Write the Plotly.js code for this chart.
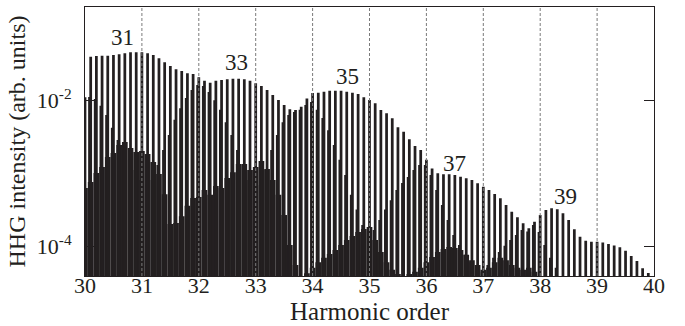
<!DOCTYPE html>
<html>
<head>
<meta charset="utf-8">
<script src="https://cdn.plot.ly/plotly-3.0.1.min.js"></script>
<style>html,body{margin:0;padding:0;background:#fff;}#chart{width:685px;height:326px;}</style>
</head>
<body>
<div id="chart"></div>
<script>
// Harmonic order of each fringe period
const orders = [30.0,30.1,30.2,30.3,30.4,30.5,30.6,30.7,30.8,30.9,
  31.0,31.1,31.2,31.3,31.4,31.5,31.6,31.7,31.8,31.9,
  32.0,32.1,32.2,32.3,32.4,32.5,32.6,32.7,32.8,32.9,
  33.0,33.1,33.2,33.3,33.4,33.5,33.6,33.7,33.8,33.9,
  34.0,34.1,34.2,34.3,34.4,34.5,34.6,34.7,34.8,34.9,
  35.0,35.1,35.2,35.3,35.4,35.5,35.6,35.7,35.8,35.9,
  36.0,36.1,36.2,36.3,36.4,36.5,36.6,36.7,36.8,36.9,
  37.0,37.1,37.2,37.3,37.4,37.5,37.6,37.7,37.8,37.9,
  38.0,38.1,38.2,38.3,38.4,38.5,38.6,38.7,38.8,38.9,
  39.0,39.1,39.2,39.3,39.4,39.5,39.6,39.7,39.8,39.9];

// Fringe maxima (tall lines)
const peakIntensity = [1.1e-2,3.94e-2,4.04e-2,4.07e-2,4.07e-2,4.17e-2,4.26e-2,4.40e-2,4.54e-2,4.54e-2,
  4.54e-2,4.40e-2,4.17e-2,3.76e-2,3.31e-2,2.94e-2,2.65e-2,2.52e-2,2.34e-2,2.29e-2,
  2.06e-2,1.85e-2,1.74e-2,1.85e-2,1.90e-2,1.94e-2,1.97e-2,1.97e-2,1.94e-2,1.85e-2,
  1.71e-2,1.57e-2,1.38e-2,1.18e-2,1.01e-2,8.63e-3,7.53e-3,7.36e-3,8.18e-3,1.06e-2,
  1.26e-2,1.27e-2,1.31e-2,1.35e-2,1.35e-2,1.35e-2,1.31e-2,1.27e-2,1.22e-2,1.10e-2,
  1.01e-2,9.1e-3,7.36e-3,6.64e-3,5.67e-3,4.27e-3,3.72e-3,2.93e-3,2.37e-3,2.09e-3,
  1.53e-3,1.17e-3,1.00e-3,9.72e-4,9.72e-4,9.51e-4,9.02e-4,8.57e-4,8.13e-4,7.32e-4,
  6.58e-4,5.93e-4,5.23e-4,4.56e-4,3.70e-4,2.99e-4,2.51e-4,2.07e-4,1.77e-4,2.18e-4,
  2.70e-4,3.16e-4,3.33e-4,3.23e-4,2.85e-4,2.31e-4,1.72e-4,1.36e-4,1.20e-4,1.16e-4,
  1.16e-4,1.13e-4,1.08e-4,1.03e-4,9.75e-5,8.77e-5,7.41e-5,6.34e-5,5.04e-5,4.34e-5];

// Shoulder level beside each maximum
const shoulderIntensity = [1.11e-2,1.11e-2,1.04e-2,8.4e-3,6.3e-3,4.2e-3,2.86e-3,2.09e-3,1.53e-3,1.11e-3,
  8.1e-4,6.9e-4,8.1e-4,1.30e-3,2.09e-3,3.35e-3,5.4e-3,7.8e-3,1.07e-2,1.38e-2,
  1.62e-2,1.57e-2,1.30e-2,1.0e-2,7.4e-3,5.0e-3,3.35e-3,2.09e-3,1.30e-3,8.1e-4,
  5.9e-4,6.9e-4,1.11e-3,2.09e-3,3.35e-3,5.0e-3,6.3e-3,6.9e-3,7.4e-3,8.6e-3,
  9.5e-3,7.4e-3,5.7e-3,3.9e-3,2.45e-3,1.53e-3,9.5e-4,5.1e-4,3.2e-4,1.97e-4,
  1.58e-4,1.68e-4,2.3e-4,3.2e-4,4.3e-4,5.9e-4,7.4e-4,8.9e-4,1.11e-3,1.30e-3,
  1.30e-3,9.5e-4,5.9e-4,3.7e-4,2.3e-4,1.44e-4,1.05e-4,7.7e-5,6.1e-5,5.1e-5,
  4.5e-5,5.6e-5,7.0e-5,8.4e-5,1.02e-4,1.23e-4,1.44e-4,1.68e-4,1.6e-4,1.97e-4,
  1.58e-4,1.05e-4,7.0e-5,5.1e-5,null,null,null,null,null,null,
  null,null,null,null,null,null,null,null,null,null];

// Fringe minima (bottom of the white gaps)
const minimumIntensity = [6.3e-4,7.6e-4,1.01e-3,1.22e-3,1.68e-3,1.90e-3,2.45e-3,2.69e-3,2.22e-3,1.96e-3,
  2.02e-3,1.84e-3,1.43e-3,9.8e-4,5.2e-4,2.03e-4,2.1e-4,2.6e-4,3.6e-4,4.6e-4,
  4.75e-4,5.9e-4,5.1e-4,6.7e-4,6.3e-4,8.65e-4,1.04e-3,1.34e-3,1.34e-3,1.11e-3,
  1.22e-3,1.48e-3,1.15e-3,8.1e-4,5.1e-4,2.7e-4,1.05e-4,5.6e-5,null,4.3e-5,
  5.1e-5,6.1e-5,7.0e-5,7.9e-5,8.95e-5,1.05e-4,1.23e-4,1.39e-4,1.58e-4,1.73e-4,
  1.85e-4,1.23e-4,8.4e-5,6.1e-5,4.8e-5,4.2e-5,null,4.2e-5,4.5e-5,5.1e-5,
  6.1e-5,7.2e-5,8.4e-5,9.2e-5,9.8e-5,9.5e-5,8.95e-5,7.7e-5,6.5e-5,5.6e-5,
  4.8e-5,5.1e-5,6.1e-5,7.0e-5,6.5e-5,5.6e-5,5.1e-5,4.8e-5,5.1e-5,4.5e-5,
  null,null,null,null,null,null,null,null,null,null,
  null,null,null,null,null,null,null,null,null,null];

const gridOrders = [31,32,33,34,35,36,37,38,39];
const xTicks = [30,31,32,33,34,35,36,37,38,39,40];
const yTickVals = [1e-4, 1e-2];
const yTickText = ['10<sup>-4</sup>', '10<sup>-2</sup>'];
const peakLabels = ['31','33','35','37','39'];
const peakLabelX = [30.66, 32.67, 34.62, 36.5, 38.44];
const peakLabelYPaper = [0.887, 0.792, 0.741, 0.419, 0.294];

const ink = '#231f20';
const serif = '"Liberation Serif", "Times New Roman", Times, serif';

const traces = [
  {type:'bar', x:orders, y:minimumIntensity, width:0.1, offset:-0.05,
   marker:{color:ink, line:{width:0}}, hoverinfo:'skip'},
  {type:'bar', x:orders, y:shoulderIntensity, width:0.045, offset:-0.045,
   marker:{color:ink, line:{width:0}}, hoverinfo:'skip'},
  {type:'bar', x:orders, y:peakIntensity, width:0.048, offset:-0.024,
   marker:{color:ink, line:{width:0}}, hoverinfo:'skip'}
];

const shapes = gridOrders.map(g => ({
  type:'line', xref:'x', yref:'paper', x0:g, x1:g, y0:0, y1:1, layer:'above',
  line:{color:'#7a7a7a', width:1, dash:'3px,2px'}
}));

const annotations = peakLabels.map((t,i) => ({
  text:t, x:peakLabelX[i], xref:'x', y:peakLabelYPaper[i], yref:'paper',
  xanchor:'center', yanchor:'middle',
  showarrow:false, font:{family:serif, size:23, color:ink}
}));

const layout = {
  width:685, height:326,
  margin:{l:85, r:31, t:7, b:50},
  paper_bgcolor:'#fff', plot_bgcolor:'#fff',
  barmode:'overlay', showlegend:false,
  font:{family:serif, color:ink},
  xaxis:{
    range:[30,40], tickmode:'array', tickvals:xTicks,
    ticks:'', ticklen:0, showgrid:false, zeroline:false,
    showline:true, mirror:true, linecolor:ink, linewidth:1,
    tickfont:{family:serif, size:22, color:ink},
    ticklabelstandoff:-10,
    title:{text:'Harmonic order', font:{family:serif, size:25, color:ink}, standoff:2}
  },
  yaxis:{
    type:'log', range:[-4.404, -0.724], tickmode:'array',
    tickvals:yTickVals, ticktext:yTickText,
    ticks:'inside', ticklen:10, tickcolor:ink, tickwidth:1,
    showgrid:false, zeroline:false,
    showline:true, mirror:'ticks', linecolor:ink, linewidth:1,
    tickfont:{family:serif, size:22, color:ink},
    ticklabelstandoff:8,
    title:{text:'HHG intensity (arb. units)', font:{family:serif, size:24, color:ink}, standoff:4}
  },
  shapes:shapes,
  annotations:annotations
};

Plotly.newPlot('chart', traces, layout, {staticPlot:true, displayModeBar:false});
</script>
</body>
</html>
